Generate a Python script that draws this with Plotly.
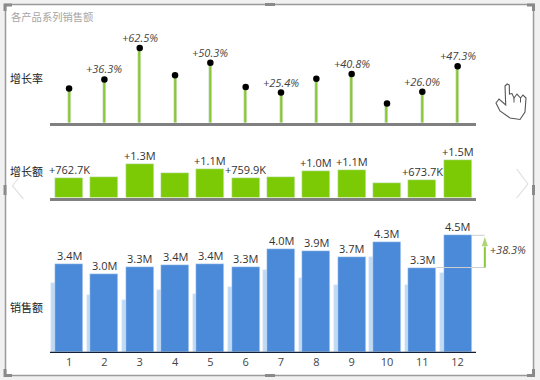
import plotly.graph_objects as go

months = list(range(1, 13))
month_labels = [str(m) for m in months]
rate_pct = [28.8, 36.3, 62.5, 39.7, 50.3, 30.0, 25.4, 36.9, 40.8, 16.3, 26.0, 47.3]
rate_labels = ["", "+36.3%", "+62.5%", "", "+50.3%", "", "+25.4%", "", "+40.8%", "", "+26.0%", "+47.3%"]
growth_amt = [762700, 810000, 1300000, 970000, 1130000, 759900, 810000, 1050000, 1090000, 590000, 673700, 1470000]
growth_labels = ["+762.7K", "", "+1.3M", "", "+1.1M", "+759.9K", "", "+1.0M", "+1.1M", "", "+673.7K", "+1.5M"]
sales = [3400000, 3000000, 3270000, 3370000, 3380000, 3280000, 3970000, 3900000, 3680000, 4250000, 3260000, 4500000]
sales_labels = ["3.4M", "3.0M", "3.3M", "3.4M", "3.4M", "3.3M", "4.0M", "3.9M", "3.7M", "4.3M", "3.3M", "4.5M"]
sales_prev = [2680000, 2200000, 2000000, 2400000, 2250000, 2520000, 3160000, 2850000, 2600000, 3660000, 2600000, 3060000]
total_delta_label = "+38.3%"
row_titles = ["增长率", "增长额", "销售额"]
title = "各产品系列销售额"

W, H = 540, 380
FONT = "Open Sans, Noto Sans CJK SC, sans-serif"
CJK = "Noto Sans CJK SC, sans-serif"
X_LEFT = 0.46
X_RIGHT = 12.52
PX_PER_CAT = 426 / (X_RIGHT - X_LEFT)
X_WIDE = X_LEFT + (530 - 50) / PX_PER_CAT
BLUE, LIGHT, GREEN, STEM = "#4a8ad8", "#bfdaf5", "#7cca05", "#8cc63a"


def py(p):
    return 1 - p / H


def px_x(p):
    return p / W


def poly(points, close=False):
    d = "M" + " L".join(f"{px_x(x):.4f},{py(y):.4f}" for x, y in points)
    return d + (" Z" if close else "")


fig = go.Figure()

fig.add_bar(x=months, y=rate_pct, width=0.085, marker_color=STEM, xaxis="x", yaxis="y", showlegend=False)
fig.add_scatter(x=months, y=rate_pct, mode="markers", marker=dict(color="#000000", size=6.5), cliponaxis=False,
                xaxis="x", yaxis="y", showlegend=False)

fig.add_bar(x=months, y=growth_amt, width=0.79, marker_color=GREEN, xaxis="x2", yaxis="y2", showlegend=False)

fig.add_bar(x=months, y=sales_prev, width=0.79, offset=-0.5, marker_color=LIGHT, xaxis="x3", yaxis="y3", showlegend=False)
fig.add_bar(x=months, y=sales, width=0.79, marker_color=BLUE, xaxis="x3", yaxis="y3", showlegend=False)

# delta bracket between month 11 and month 12
bx = 12.77
fig.add_scatter(x=[11.4, bx], y=[sales[10], sales[10]], mode="lines", line=dict(color="#cfcfcf", width=1),
                xaxis="x3", yaxis="y3", showlegend=False)
fig.add_scatter(x=[12.4, bx], y=[sales[11], sales[11]], mode="lines", line=dict(color="#cfcfcf", width=1),
                xaxis="x3", yaxis="y3", showlegend=False)
fig.add_scatter(x=[bx, bx], y=[sales[10], sales[11]], mode="lines+markers",
                line=dict(color=STEM, width=2),
                marker=dict(symbol=["line-ew", "arrow"], angleref="previous", size=[1, 12], color=STEM),
                xaxis="x3", yaxis="y3", showlegend=False)
fig.add_scatter(x=[13.42], y=[(sales[10] + sales[11]) / 2], mode="text", text=[total_delta_label],
                textfont=dict(family=FONT, size=11, color="#444444", style="italic"),
                xaxis="x3", yaxis="y3", showlegend=False)

shapes = [
    dict(type="path", xref="paper", yref="paper", layer="below",
         path=poly([(5.5, 4.5), (533.5, 4.5), (533.5, 375.5), (5.5, 375.5)], True),
         fillcolor="#ffffff", line=dict(color="#9a9a9a", width=1.5)),
    dict(type="path", xref="paper", yref="paper", path=poly([(18.5, 178), (12.5, 186), (23.5, 199)]),
         line=dict(color="#e2e2e2", width=1.2)),
    dict(type="path", xref="paper", yref="paper", path=poly([(516.5, 169), (528, 184), (516.5, 198)]),
         line=dict(color="#e2e2e2", width=1.2)),
    dict(type="line", xref="x3", yref="y3", x0=X_LEFT, x1=X_RIGHT, y0=0, y1=0, line=dict(color="#10203a", width=1.2)),
    # hand cursor
    dict(type="path", xref="paper", yref="paper",
         path=poly([(505, 86), (505.7, 105), (499, 99), (496, 103), (500, 111), (510, 118), (520, 119.5),
                    (525, 112), (526, 98), (523, 95), (520.5, 98), (517, 94), (514, 98), (512, 93.5), (509.5, 94),
                    (509.3, 85), (507.3, 84)], True),
         fillcolor="#ffffff", line=dict(color="#555555", width=1.1)),
    dict(type="line", xref="paper", yref="paper", x0=px_x(514), x1=px_x(514), y0=py(98), y1=py(102.5),
         line=dict(color="#555555", width=1)),
    dict(type="line", xref="paper", yref="paper", x0=px_x(520.5), x1=px_x(520.5), y0=py(98), y1=py(102.5),
         line=dict(color="#555555", width=1)),
]
# selection handles on the visual frame
for a, b in [((5, 185), (5, 195)), ((533.5, 185), (533.5, 195)), ((265, 4.5), (275, 4.5)), ((265, 375.5), (275, 375.5))]:
    shapes.append(dict(type="path", xref="paper", yref="paper", path=poly([a, b]), line=dict(color="#8a8a8a", width=3)))
for pts in [[(5, 11), (5, 5), (12, 5)], [(527, 5), (533.5, 5), (533.5, 11)],
            [(5, 369), (5, 375.5), (12, 375.5)], [(527, 375.5), (533.5, 375.5), (533.5, 369)]]:
    shapes.append(dict(type="path", xref="paper", yref="paper", path=poly(pts), line=dict(color="#8a8a8a", width=3)))

annotations = [
    dict(text=title, x=px_x(9), y=py(16.5), xref="paper", yref="paper", xanchor="left", yanchor="middle",
         showarrow=False, font=dict(family=CJK, size=10.3, color="#a6a6a6")),
]
for t, yp in zip(row_titles, [78, 171, 307]):
    annotations.append(dict(text=t, x=px_x(7.5), y=py(yp), xref="paper", yref="paper", xanchor="left",
                            yanchor="middle", showarrow=False, font=dict(family=CJK, size=11, color="#222222")))
for m, v, t in zip(months, rate_pct, rate_labels):
    if t:
        annotations.append(dict(text=t, x=m, y=v, xref="x", yref="y", xanchor="center", yanchor="bottom",
                                yshift=1, showarrow=False,
                                font=dict(family=FONT, size=11, color="#444444", style="italic")))
for m, v, t in zip(months, growth_amt, growth_labels):
    if t:
        annotations.append(dict(text=t, x=m, y=v, xref="x2", yref="y2", xanchor="center", yanchor="bottom",
                                yshift=-1, showarrow=False, font=dict(family=FONT, size=11, color="#333333")))
for m, v, t in zip(months, sales, sales_labels):
    annotations.append(dict(text=t, x=m, y=v, xref="x3", yref="y3", xanchor="center", yanchor="bottom",
                            yshift=-1, showarrow=False, font=dict(family=FONT, size=11, color="#333333")))

gray_axis = dict(showgrid=False, zeroline=False, showticklabels=False, ticks="", showline=True,
                 linecolor="#808080", linewidth=2.5, range=[X_LEFT, X_RIGHT],
                 domain=[px_x(50), px_x(476)])
hidden_y = dict(showgrid=False, zeroline=False, showticklabels=False, ticks="", showline=False)

fig.update_layout(
    width=W, height=H, margin=dict(l=0, r=0, t=0, b=0), autosize=False,
    paper_bgcolor="#f1f1f1", plot_bgcolor="rgba(0,0,0,0)",
    barmode="overlay", bargap=0, showlegend=False, shapes=shapes, annotations=annotations,
    xaxis=dict(anchor="y", **gray_axis),
    yaxis=dict(anchor="x", domain=[py(123), py(31)], range=[0, 92 / 1.2], **hidden_y),
    xaxis2=dict(anchor="y2", **gray_axis),
    yaxis2=dict(anchor="x2", domain=[py(197.5), py(146)], range=[0, 51.5 / 25.4 * 1e6], **hidden_y),
    xaxis3=dict(anchor="y3", showgrid=False, zeroline=False, showline=False, ticks="",
                tickmode="array", tickvals=months, ticktext=month_labels,
                tickfont=dict(family=FONT, size=11, color="#444444"),
                range=[X_LEFT, X_WIDE], domain=[px_x(50), px_x(530)]),
    yaxis3=dict(anchor="x3", domain=[py(353.5), py(225)], range=[-1.2 / 26 * 1e6, 127.3 / 26 * 1e6], **hidden_y),
)

fig.write_html("out.html", config=dict(displayModeBar=False),
               post_script="document.body.style.margin='0';document.documentElement.style.overflow='hidden';")
